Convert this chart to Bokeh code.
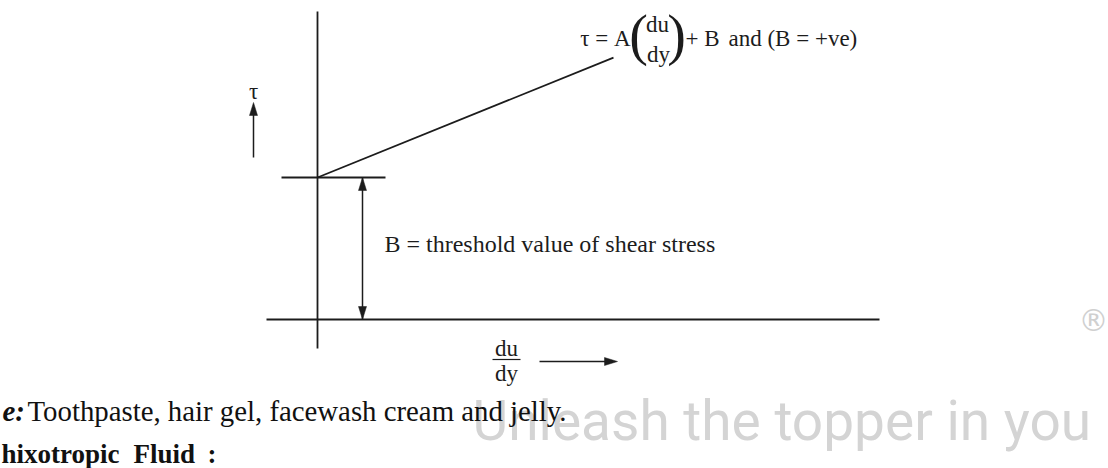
from bokeh.plotting import figure
from bokeh.models import Range1d
from bokeh.core.properties import value
from bokeh.embed import file_html
from bokeh.resources import INLINE

# ---------------- data (diagram units, origin at the axes' crossing) ----------------
# Bingham plastic law: tau = A * (du/dy) + B
B_value = 142            # threshold shear stress (intercept)
A_value = 0.405          # slope
rate_values = [0, 296]   # du/dy extent of the drawn law
tau_values = [B_value + A_value * r for r in rate_values]

x_axis_span = [-51, 562]         # horizontal (du/dy) axis
y_axis_span = [-29, 308]         # vertical (tau) axis
threshold_tick_span = [-36, 68]  # short line at tau = B
B_arrow_x = 45                   # double arrow marking B

tau_arrow_x = [-64, -64]         # tail, tip
tau_arrow_y = [162, 217]
rate_arrow_x = [222, 300]
rate_arrow_y = [-42, -42]

# ---------------- labels ----------------
serif = value("Liberation Serif")
ink = "#1c1c1c"

eq_main = ["τ = A", "+ B", "and (B = +ve)"]
eq_main_x = [313, 368, 411]
eq_main_align = ["right", "left", "left"]
eq_main_y = 281.5

eq_frac = ["du", "dy"]
eq_frac_x = [340, 341]
eq_frac_y = [295, 265]

eq_paren = ["(", ")"]
eq_paren_x = [321, 359]
eq_paren_y = 284.5

rate_label = ["du", "dy"]
rate_label_x = 189
rate_label_y = [-28.5, -53.5]
rate_bar_x = [175, 203]
rate_bar_y = -40

tau_label = "τ"
tau_label_xy = (-64, 228)

B_label = "B = threshold value of shear stress"
B_label_xy = (67, 75.5)

note_head = "e:"
note_head_xy = (-315, -91)
note_body = "Toothpaste, hair gel, facewash cream and jelly."
note_body_xy = (-290, -91)

heading = ["hixotropic", "Fluid", ":"]
heading_x = [-316, -184, -110]
heading_y = -134

tagline = "Unleash the topper in you"
tagline_xy = (155, -101)
reg_mark = "®"
reg_mark_xy = (776, -1)

# ---------------- figure ----------------
OX, OY = 317, 319
W, H = 1108, 468
p = figure(width=W, height=H,
           x_range=Range1d(-OX, W - OX),
           y_range=Range1d(OY - H, OY),
           output_backend="svg", toolbar_location=None,
           x_axis_location=None, y_axis_location=None,
           min_border=0, outline_line_color=None,
           background_fill_color="white", border_fill_color="white")
p.grid.visible = False

# watermark text (light gray, underneath)
p.text(x=[tagline_xy[0]], y=[tagline_xy[1]], text=[tagline],
       text_font=value("Roboto"), text_font_size="55px", text_color="#d4d4d4",
       text_align="left", text_baseline="middle")
p.text(x=[reg_mark_xy[0]], y=[reg_mark_xy[1]], text=[reg_mark],
       text_font=value("DejaVu Sans"), text_font_size="30px", text_color="#d0d0d0",
       text_align="center", text_baseline="middle")

# axes
p.segment(x0=[x_axis_span[0], 0], y0=[0, y_axis_span[0]],
          x1=[x_axis_span[1], 0], y1=[0, y_axis_span[1]],
          line_color=ink, line_width=1.8)
# threshold tick
p.segment(x0=[threshold_tick_span[0]], y0=[B_value], x1=[threshold_tick_span[1]], y1=[B_value],
          line_color=ink, line_width=1.8)
# law
p.line(x=rate_values, y=tau_values, line_color=ink, line_width=1.8)

# arrows: shafts
HL, HW = 13, 4
p.segment(x0=[tau_arrow_x[0], rate_arrow_x[0], B_arrow_x],
          y0=[tau_arrow_y[0], rate_arrow_y[0], 0],
          x1=[tau_arrow_x[1], rate_arrow_x[1] - HL + 2, B_arrow_x],
          y1=[tau_arrow_y[1] - HL + 2, rate_arrow_y[1], B_value],
          line_color=ink, line_width=1.5)

def head(tx, ty, dx, dy):
    # triangle with tip at (tx, ty) pointing along unit (dx, dy)
    bx, by = tx - dx * HL, ty - dy * HL
    px, py = -dy * HW, dx * HW
    return [tx, bx + px, bx - px], [ty, by + py, by - py]

heads = [head(tau_arrow_x[1], tau_arrow_y[1], 0, 1),
         head(rate_arrow_x[1], rate_arrow_y[1], 1, 0),
         head(B_arrow_x, B_value, 0, 1),
         head(B_arrow_x, 0, 0, -1)]
p.patches(xs=[h[0] for h in heads], ys=[h[1] for h in heads],
          fill_color=ink, line_color=ink, line_width=0.5)

# fraction bar under x axis
p.segment(x0=[rate_bar_x[0]], y0=[rate_bar_y], x1=[rate_bar_x[1]], y1=[rate_bar_y],
          line_color=ink, line_width=1.2)

# diagram texts
p.text(x=eq_main_x, y=[eq_main_y] * 3, text=eq_main, text_align=eq_main_align,
       text_font=serif, text_font_size="23px", text_color=ink, text_baseline="middle")
p.text(x=eq_frac_x, y=eq_frac_y, text=eq_frac, text_align="center",
       text_font=serif, text_font_size="23px", text_color=ink, text_baseline="middle")
p.text(x=eq_paren_x, y=[eq_paren_y] * 2, text=eq_paren, text_align="center",
       text_font=serif, text_font_size="56px", text_color=ink, text_baseline="middle")
p.text(x=[rate_label_x] * 2, y=rate_label_y, text=rate_label, text_align="center",
       text_font=serif, text_font_size="23px", text_color=ink, text_baseline="middle")
p.text(x=[tau_label_xy[0]], y=[tau_label_xy[1]], text=[tau_label], text_align="center",
       text_font=serif, text_font_size="23px", text_color=ink, text_baseline="middle")
p.text(x=[B_label_xy[0]], y=[B_label_xy[1]], text=[B_label], text_align="left",
       text_font=serif, text_font_size="24px", text_color=ink, text_baseline="middle")

# page text below
p.text(x=[note_head_xy[0]], y=[note_head_xy[1]], text=[note_head], text_align="left",
       text_font=serif, text_font_size="28.8px", text_font_style="bold italic",
       text_color="#111111", text_baseline="middle")
p.text(x=[note_body_xy[0]], y=[note_body_xy[1]], text=[note_body], text_align="left",
       text_font=serif, text_font_size="28.8px", text_color="#111111", text_baseline="middle")
p.text(x=heading_x, y=[heading_y] * 3, text=heading, text_align="left",
       text_font=serif, text_font_size="27px", text_font_style="bold",
       text_color="#111111", text_baseline="middle")

open("out.html", "w").write(file_html(p, INLINE))
